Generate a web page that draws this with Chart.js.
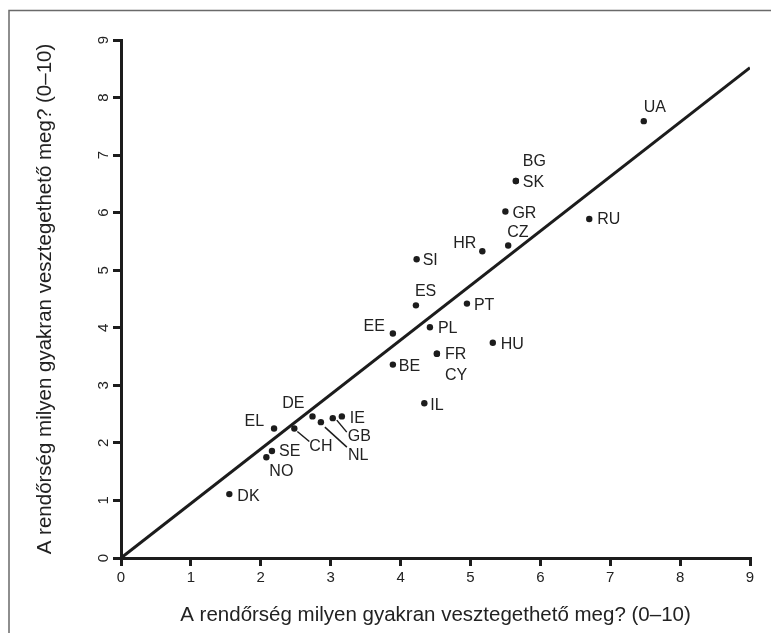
<!DOCTYPE html>
<html>
<head>
<meta charset="utf-8">
<script src="https://cdn.jsdelivr.net/npm/chart.js@4.4.1/dist/chart.umd.min.js"></script>
<style>
  html, body { margin: 0; padding: 0; background: #fff; }
  canvas { display: block; }
</style>
</head>
<body>
<canvas id="chart" width="771" height="633"></canvas>
<script>
// country codes and values
const codes = ['UA', 'SK', 'BG', 'GR', 'CZ', 'HR', 'RU', 'SI', 'ES', 'PT', 'EE', 'PL', 'HU',
               'FR', 'CY', 'BE', 'IL', 'EL', 'CH', 'DE', 'NL', 'GB', 'IE', 'SE', 'NO', 'DK'];
const xValues = [7.48, 5.65, 5.65, 5.50, 5.54, 5.17, 6.70, 4.23, 4.22, 4.95, 3.89, 4.42, 5.32,
                 4.52, 4.52, 3.89, 4.34, 2.19, 2.48, 2.74, 2.86, 3.03, 3.16, 2.16, 2.08, 1.55];
const yValues = [7.59, 6.55, 6.55, 6.02, 5.43, 5.33, 5.89, 5.19, 4.39, 4.42, 3.90, 4.01, 3.74,
                 3.55, 3.55, 3.36, 2.69, 2.25, 2.25, 2.46, 2.36, 2.43, 2.46, 1.86, 1.75, 1.11];
const lineX = [0, 9];
const lineY = [0, 8.52];
const tickValues = [0, 1, 2, 3, 4, 5, 6, 7, 8, 9];
const axisTitle = 'A rendőrség milyen gyakran vesztegethető meg? (0–10)';

// where each code label sits relative to its dot (px), plus optional leader line
const labelPlace = {
    UA: [0, -14, 'left'], SK: [7, 2, 'left'], BG: [7, -19, 'left'], GR: [7, 2, 'left'],
    CZ: [-1, -13, 'left'], HR: [-6, -8, 'right'], RU: [8, 1, 'left'], SI: [6, 1, 'left'],
    ES: [-1, -14, 'left'], PT: [7, 2, 'left'], EE: [-8, -7, 'right'], PL: [8, 1, 'left'],
    HU: [8, 2, 'left'], FR: [8, 1, 'left'], CY: [8, 22, 'left'], BE: [6, 2, 'left'],
    IL: [6, 2, 'left'], EL: [-10, -7, 'right'], DE: [-8, -13, 'right'], IE: [8, 2, 'left'],
    GB: [15, 18, 'left', [4, 2, 14, 14]], NL: [27, 33, 'left', [4, 5, 26, 25]],
    CH: [15, 18, 'left', [3, 3, 15, 13]], SE: [7, 1, 'left'], NO: [3, 14, 'left'],
    DK: [8, 2, 'left']
};

const INK = '#1c1c1c';
Chart.defaults.font.family = '"Liberation Sans", Arial, sans-serif';
Chart.defaults.color = '#222';

const framePlugin = {
    id: 'frame',
    beforeDraw(chart) {
        const c = chart.ctx;
        c.save();
        c.fillStyle = '#fff';
        c.fillRect(0, 0, chart.width, chart.height);
        c.strokeStyle = '#6a6a6a';
        c.lineWidth = 1.5;
        c.beginPath();
        c.moveTo(9, chart.height);
        c.lineTo(9, 10.5);
        c.lineTo(chart.width, 10.5);
        c.stroke();
        c.restore();
    }
};

const labelPlugin = {
    id: 'codeLabels',
    afterDatasetsDraw(chart) {
        const c = chart.ctx;
        const meta = chart.getDatasetMeta(1);
        c.save();
        c.font = '16px "Liberation Sans", Arial, sans-serif';
        c.fillStyle = '#222';
        c.strokeStyle = INK;
        c.lineWidth = 1.5;
        c.textBaseline = 'middle';
        meta.data.forEach((pt, i) => {
            const p = labelPlace[codes[i]];
            c.textAlign = p[2];
            c.fillText(codes[i], pt.x + p[0], pt.y + p[1]);
            if (p[3]) {
                c.beginPath();
                c.moveTo(pt.x + p[3][0], pt.y + p[3][1]);
                c.lineTo(pt.x + p[3][2], pt.y + p[3][3]);
                c.stroke();
            }
        });
        c.restore();
    }
};

const axisGrid = { drawOnChartArea: false, drawTicks: true, tickLength: 8, lineWidth: 3, color: INK };
const axisBorder = { width: 3, color: INK };

document.addEventListener('DOMContentLoaded', () => {
    new Chart(document.getElementById('chart'), {
        type: 'scatter',
        data: {
            datasets: [
                {
                    type: 'line',
                    data: lineX.map((x, i) => ({ x: x, y: lineY[i] })),
                    borderColor: INK,
                    borderWidth: 3,
                    pointRadius: 0,
                    tension: 0
                },
                {
                    data: xValues.map((x, i) => ({ x: x, y: yValues[i] })),
                    pointRadius: 3.2,
                    backgroundColor: INK,
                    borderWidth: 0
                }
            ]
        },
        options: {
            responsive: false,
            animation: false,
            layout: { padding: { top: 40, right: 21, left: 0, bottom: 0 } },
            plugins: { legend: { display: false }, tooltip: { enabled: false } },
            scales: {
                x: {
                    type: 'linear', min: 0, max: 9,
                    afterBuildTicks: s => { s.ticks = tickValues.map(v => ({ value: v })); },
                    afterFit: s => { s.height = 75; },
                    ticks: { padding: 3, font: { size: 15 }, color: '#222' },
                    grid: axisGrid,
                    border: axisBorder,
                    title: { display: true, text: axisTitle, font: { size: 20.5 }, color: '#222', padding: { top: 0, bottom: 5 } }
                },
                y: {
                    type: 'linear', min: 0, max: 9,
                    afterBuildTicks: s => { s.ticks = tickValues.map(v => ({ value: v })); },
                    afterFit: s => { s.width = 121; },
                    ticks: { padding: 5, font: { size: 15 }, color: '#222', minRotation: 90, maxRotation: 90, crossAlign: 'center' },
                    grid: axisGrid,
                    border: axisBorder,
                    title: { display: true, text: axisTitle, font: { size: 20.5 }, color: '#222', padding: { top: 33, bottom: 0 } }
                }
            }
        },
        plugins: [framePlugin, labelPlugin]
    });
});
</script>
</body>
</html>
